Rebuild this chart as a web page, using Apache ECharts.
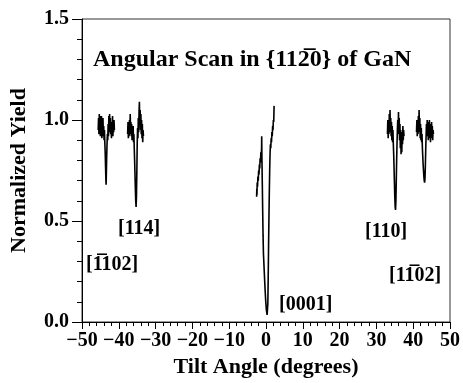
<!DOCTYPE html>
<html>
<head>
<meta charset="utf-8">
<script src="https://cdn.jsdelivr.net/npm/echarts@6/dist/echarts.min.js"></script>
<style>
  html, body { margin: 0; padding: 0; background: #fff; }
  #chart { width: 463px; height: 383px; }
</style>
</head>
<body>
<div id="chart"></div>
<script>
// 倾角 (deg) / 归一化产额 — 每段扫描单独一条
const scanA = [[-45.6,0.95],[-45.5,1.01],[-45.4,0.93],[-45.3,1.03],[-45.2,0.96],[-45.1,1.02],[-45.0,0.92],[-44.9,0.99],[-44.8,0.94],[-44.7,1.02],[-44.6,0.91],[-44.5,0.98],[-44.4,0.93],[-44.3,1.01],[-44.2,0.92],[-44.1,0.97],[-44.0,0.90],[-43.9,0.95],[-43.8,0.89],[-43.7,0.84],[-43.6,0.77],[-43.5,0.70],[-43.45,0.68],[-43.4,0.72],[-43.3,0.81],[-43.2,0.88],[-43.1,0.93],[-43.0,0.90],[-42.9,0.98],[-42.8,0.92],[-42.7,1.02],[-42.6,0.94],[-42.5,1.03],[-42.4,0.95],[-42.3,1.01],[-42.2,0.93],[-42.1,0.99],[-42.0,0.91],[-41.9,0.97],[-41.8,0.93],[-41.7,1.02],[-41.6,0.92],[-41.5,0.99],[-41.4,0.94],[-41.3,1.00],[-41.2,0.95]]
const scanB = [[-37.6,0.93],[-37.5,0.99],[-37.4,0.91],[-37.3,0.97],[-37.2,0.92],[-37.1,1.00],[-37.0,0.93],[-36.9,1.03],[-36.8,0.95],[-36.7,0.99],[-36.6,0.92],[-36.5,0.98],[-36.4,0.90],[-36.3,0.96],[-36.2,0.91],[-36.1,0.97],[-36.0,0.89],[-35.9,0.93],[-35.8,0.86],[-35.7,0.80],[-35.6,0.73],[-35.5,0.66],[-35.4,0.60],[-35.3,0.57],[-35.2,0.62],[-35.1,0.74],[-35.0,0.88],[-34.9,0.96],[-34.8,0.91],[-34.7,1.01],[-34.6,0.94],[-34.5,1.04],[-34.4,1.09],[-34.3,0.97],[-34.2,1.05],[-34.1,0.95],[-34.0,1.03],[-33.9,0.93],[-33.8,1.00],[-33.7,0.91],[-33.6,0.98],[-33.5,0.89],[-33.4,0.95],[-33.3,0.92]]
const scanC = [[-2.55,0.62],[-2.5,0.66],[-2.45,0.63],[-2.4,0.69],[-2.3,0.67],[-2.2,0.72],[-2.1,0.70],[-2.0,0.75],[-1.9,0.73],[-1.8,0.78],[-1.7,0.76],[-1.6,0.81],[-1.5,0.79],[-1.4,0.84],[-1.3,0.82],[-1.2,0.86],[-1.17,0.92],[-1.1,0.80],[-1.0,0.68],[-0.9,0.55],[-0.8,0.43],[-0.7,0.34],[-0.5,0.26],[-0.3,0.18],[-0.1,0.11],[0.1,0.06],[0.3,0.035],[0.4,0.04],[0.5,0.09],[0.6,0.22],[0.7,0.38],[0.8,0.52],[0.9,0.64],[1.0,0.75],[1.1,0.83],[1.2,0.88],[1.3,0.86],[1.4,0.91],[1.5,0.89],[1.6,0.94],[1.7,0.92],[1.8,0.97],[1.9,0.95],[2.0,1.00],[2.1,0.99],[2.2,1.07]]
const scanD = [[33.0,0.93],[33.1,1.00],[33.2,0.91],[33.3,0.98],[33.4,0.93],[33.5,1.03],[33.6,0.94],[33.7,1.05],[33.8,0.96],[33.9,1.01],[34.0,0.92],[34.1,0.99],[34.2,0.90],[34.3,0.97],[34.4,0.89],[34.5,0.95],[34.6,0.88],[34.7,0.83],[34.8,0.76],[34.9,0.69],[35.0,0.62],[35.1,0.57],[35.2,0.555],[35.3,0.60],[35.4,0.70],[35.5,0.80],[35.6,0.88],[35.7,0.95],[35.8,1.00],[35.9,0.93],[36.0,1.04],[36.1,0.94],[36.2,1.01],[36.3,0.90],[36.4,0.98],[36.5,0.86],[36.6,0.95],[36.7,0.83],[36.8,0.91],[36.9,0.84],[37.0,0.94],[37.1,0.88],[37.2,0.97],[37.3,0.90],[37.4,0.95],[37.5,0.92]]
const scanE = [[40.9,0.94],[41.0,1.00],[41.1,0.92],[41.2,0.98],[41.3,0.93],[41.4,1.02],[41.5,0.94],[41.6,1.05],[41.7,0.95],[41.8,1.01],[41.9,0.91],[42.0,0.98],[42.1,0.90],[42.2,0.96],[42.3,0.89],[42.4,0.93],[42.5,0.86],[42.6,0.82],[42.7,0.78],[42.8,0.75],[42.9,0.72],[43.0,0.70],[43.1,0.69],[43.2,0.71],[43.3,0.77],[43.4,0.85],[43.5,0.92],[43.6,0.98],[43.7,0.92],[43.8,1.00],[43.9,0.93],[44.0,0.99],[44.1,0.90],[44.2,0.97],[44.3,0.91],[44.4,1.00],[44.5,0.92],[44.6,0.98],[44.7,0.89],[44.8,0.96],[44.9,0.91],[45.0,0.99],[45.1,0.92],[45.2,0.97],[45.3,0.90],[45.4,0.95],[45.5,0.93]]

const scans = [scanA, scanB, scanC, scanD, scanE]

// 轴范围 / 刻度
const xRange = [-50, 50]
const yRange = [0, 1.5]

// 通道方向标注 (文字, x像素, y像素)
const title = 'Angular Scan in {112\u03050} of GaN'
const notes = [
  ['[1\u0305102]', 86, 265],
  ['[114]', 118, 229],
  ['[0001]', 279, 305],
  ['[110]', 365, 232],
  ['[11\u030502]', 389, 276]
]

const FONT = '"Liberation Serif", "DejaVu Serif", serif'

const chart = echarts.init(document.getElementById('chart'))

chart.setOption({
  animation: false,
  grid: {
    left: 82, right: 13, top: 19, bottom: 56,
    show: true, borderColor: '#333', borderWidth: 1
  },
  xAxis: {
    type: 'value',
    min: xRange[0], max: xRange[1], interval: 10,
    name: 'Tilt Angle (degrees)',
    nameLocation: 'middle', nameGap: 34,
    nameTextStyle: { fontFamily: FONT, fontWeight: 'bold', fontSize: 22, color: '#000' },
    axisLine: { onZero: false, lineStyle: { color: '#000', width: 1 } },
    axisTick: { length: 7, lineStyle: { color: '#000' } },
    minorTick: { show: true, splitNumber: 5, length: 4, lineStyle: { color: '#000' } },
    splitLine: { show: false },
    axisLabel: {
      margin: 9, color: '#000', fontFamily: FONT, fontWeight: 'bold', fontSize: 20,
      formatter: v => String(v).replace('-', '\u2212')
    }
  },
  yAxis: {
    type: 'value',
    min: yRange[0], max: yRange[1], interval: 0.5,
    name: 'Normalized Yield',
    nameLocation: 'middle', nameGap: 52,
    nameTextStyle: { fontFamily: FONT, fontWeight: 'bold', fontSize: 22, color: '#000' },
    axisLine: { show: true, onZero: false, lineStyle: { color: '#000', width: 1 } },
    axisTick: { length: 10, lineStyle: { color: '#000' } },
    minorTick: { show: true, splitNumber: 5, length: 5, lineStyle: { color: '#000' } },
    splitLine: { show: false },
    axisLabel: {
      margin: 13, color: '#000', fontFamily: FONT, fontWeight: 'bold', fontSize: 20,
      formatter: v => v.toFixed(1)
    }
  },
  series: scans.map(d => ({
    type: 'line',
    data: d,
    showSymbol: false,
    lineStyle: { color: '#000', width: 1.6 }
  })),
  graphic: [
    {
      type: 'text', x: 93, y: 60,
      style: {
        text: title, fill: '#000', font: 'bold 24px ' + FONT,
        textVerticalAlign: 'middle'
      }
    },
    ...notes.map(([t, x, y]) => ({
      type: 'text', x, y,
      style: { text: t, fill: '#000', font: 'bold 20px ' + FONT, textVerticalAlign: 'middle' }
    }))
  ]
})
</script>
</body>
</html>
